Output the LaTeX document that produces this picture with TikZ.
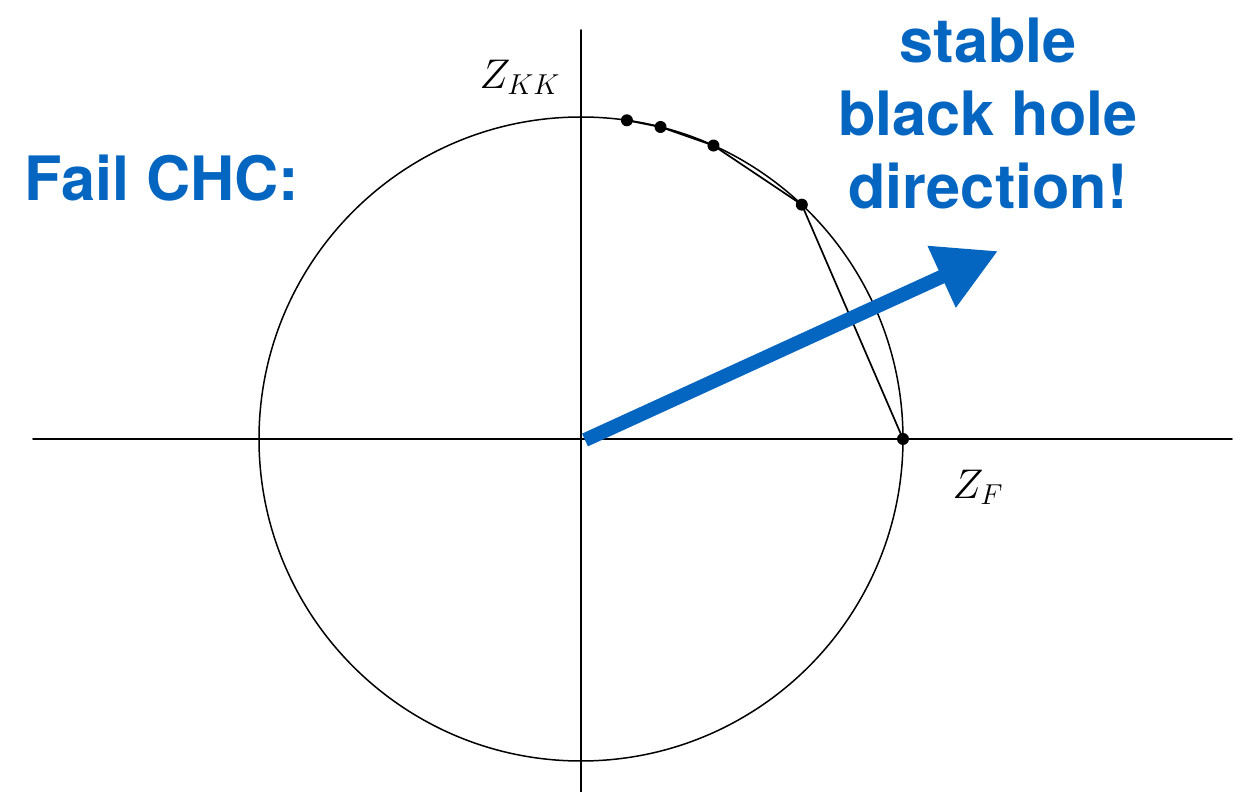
\documentclass[tikz,border=0pt]{standalone}
\usepackage{fontspec}
\setsansfont{TeX Gyre Heros}
\usetikzlibrary{arrows.meta}
\definecolor{slideblue}{HTML}{0566C1}

\begin{document}
\begin{tikzpicture}[
  x=0.5pt,
  y=0.5pt,
  line width=0.75pt,
  line cap=round,
  line join=round,
  bigtext/.style={text=slideblue, font=\fontsize{30.6}{36.5}\selectfont\sffamily\bfseries, align=center},
  axislabel/.style={font=\fontsize{22}{26}\selectfont}
]
  \useasboundingbox (-581,-353) rectangle (669,439);

  \coordinate (O) at (0,0);
  \coordinate (W) at (-548,0);
  \coordinate (E) at (651,0);
  \coordinate (N) at (0,409);
  \coordinate (S) at (0,-353);

  \coordinate (P1) at (81.8:322);
  \coordinate (P2) at (75.7:322);
  \coordinate (P3) at (65.7:322);
  \coordinate (P4) at (46.7:322);
  \coordinate (P5) at (0:322);

  % axes and circle
  \draw[line width=0.95pt] (W) -- (E);
  \draw[line width=0.95pt] (S) -- (N);
  \draw (O) circle (322);

  % chords through the points
  \draw[line width=0.85pt] (P1) -- (P2) -- (P3) -- (P4) -- (P5);

  \fill (P1) circle (6);
  \fill (P2) circle (6);
  \fill (P3) circle (6);
  \fill (P4) circle (6);
  \fill (P5) circle (6);

  \node[axislabel] (zkk) at (-61,362) {$Z_{KK}$};
  \node[axislabel] (zf) at (397,-48) {$Z_F$};

  % direction arrow
  \coordinate (A0) at (4,-1);
  \coordinate (A1) at (417,188);
  \draw[slideblue, line width=7pt, line cap=butt, -{Triangle[length=31pt,width=32pt]}] (A0) -- (A1);

  \node[bigtext] (fail) at (-419,261) {Fail CHC:};
  \node[bigtext] (stable) at (407,326) {stable\\black hole\\direction!};
\end{tikzpicture}
\end{document}
